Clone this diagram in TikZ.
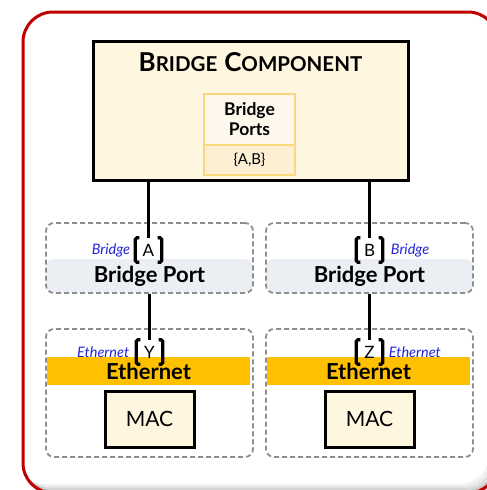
\documentclass[tikz,border=0pt]{standalone}
\usepackage{fontspec}
\setmainfont{Lato}
\usetikzlibrary{positioning}
\definecolor{framered}{HTML}{C00000}
\definecolor{cream}{HTML}{FFF6E0}
\definecolor{portsborder}{HTML}{F9D77E}
\definecolor{portstop}{HTML}{FEF8EC}
\definecolor{portsbot}{HTML}{FCEFD4}
\definecolor{bandgray}{HTML}{EBEFF4}
\definecolor{ethorange}{HTML}{FFC000}
\definecolor{dashgray}{HTML}{8E8E8E}
\definecolor{tagblue}{HTML}{2323D8}
\newcommand{\fakesc}[2]{{\fontsize{26}{28}\selectfont #1}{\fontsize{20.5}{22}\selectfont #2}}
\tikzset{
    component/.style={
    rectangle,draw=black,line width=3pt,fill=cream
    },
    ports/.style={
    rectangle,draw=portsborder,line width=1.5pt,minimum width=91pt
    },
    layer/.style={
    rectangle,rounded corners=8pt,dash pattern=on 5pt off 3pt,draw=dashgray,line width=1.8pt,minimum width=207pt
    },
    band/.style={
    rectangle,minimum width=203pt,minimum height=28pt,inner sep=0pt,font=\fontsize{22}{24}\selectfont\bfseries
    },
    port/.style={
    rectangle,minimum width=26pt,minimum height=24pt,inner sep=0pt,font=\fontsize{17}{18}\selectfont
    },
    tag/.style={
    font=\fontsize{14.5}{16}\selectfont\itshape,text=tagblue,inner sep=0pt
    },
    bracket/.style={
    line width=3.2pt,rounded corners=1.5pt
    },
    wire/.style={
    line width=3pt
    },
}
\begin{document}
\begin{tikzpicture}[x=1pt, y=-1pt]
   \useasboundingbox (0,0) rectangle (487,490);
   % frame with its inner shadow
   \begin{scope}
     \clip[rounded corners=30pt] (23,12) rectangle (498,493);
     \foreach \s/\o in {2/0.22,4/0.15,6/0.09,8/0.05}
       \draw[black, opacity=\o, line width=2.2pt, rounded corners=30pt] (23-\s,12-\s) rectangle (498-\s,493-\s);
   \end{scope}
   \draw[framered, line width=3pt, rounded corners=30pt] (23,12) rectangle (498,493);

   % bridge component
   \node[component, minimum width=315pt, minimum height=139pt] (bc) at (250.5,110.5) {};
   \node[] (bctitle) at (250.5,62) {\bfseries\fakesc{B}{RIDGE}\hspace{7pt}\fakesc{C}{OMPONENT}};
   \node[ports, fill=portstop, minimum height=51pt, align=center, font=\fontsize{17.5}{20}\selectfont\bfseries] (bpname) at (249.5,119.5) {Bridge\\Ports};
   \node[ports, fill=portsbot, minimum height=30pt, font=\fontsize{15}{16}\selectfont] (bpset) at (249.5,160) {\{A,B\}};

   % bridge ports
   \node[layer, minimum height=70pt, path picture={\fill[bandgray] (path picture bounding box.south west) rectangle ([yshift=34pt]path picture bounding box.south east);}] (bpl) at (149.5,258) {};
   \node[layer, minimum height=70pt, path picture={\fill[bandgray] (path picture bounding box.south west) rectangle ([yshift=34pt]path picture bounding box.south east);}] (bpr) at (369.5,258) {};
   \node[band] (bpltxt) at (149.5,276) {Bridge Port};
   \node[band] (bprtxt) at (369.5,276) {Bridge Port};
   \node[port] (pa) at (148.5,250) {A};
   \node[port] (pb) at (369.5,250) {B};
   \node[tag, left=5pt of pa] (tagA) {Bridge};
   \node[tag, right=8pt of pb] (tagB) {Bridge};

   % ethernet
   \node[layer, minimum height=128pt] (etl) at (149.5,393) {};
   \node[layer, minimum height=128pt] (etr) at (369.5,393) {};
   \node[band, fill=ethorange] (etltxt) at (148.5,371) {Ethernet};
   \node[band, fill=ethorange] (etrtxt) at (368.5,371) {Ethernet};
   \node[port] (py) at (149.5,352) {Y};
   \node[port] (pz) at (369.5,352) {Z};
   \node[tag, left=7pt of py] (tagY) {Ethernet};
   \node[tag, right=6pt of pz] (tagZ) {Ethernet};
   \node[component, minimum width=89pt, minimum height=56pt, font=\fontsize{21}{24}\selectfont] (macl) at (149.5,419) {MAC};
   \node[component, minimum width=89pt, minimum height=56pt, font=\fontsize{21}{24}\selectfont] (macr) at (369.5,419) {MAC};

  \path[wire]
    (bc.south -| pa) edge (pa.north)
    (bc.south -| pb) edge (pb.north)
    (bpl.south -| py) edge (py.north)
    (bpr.south -| pz) edge (pz.north);

  \foreach \p in {pa,pb,py,pz}{
    \draw[bracket] ([xshift=4pt]\p.north west) -- (\p.north west) -- (\p.south west) -- ([xshift=4pt]\p.south west);
    \draw[bracket] ([xshift=-4pt]\p.north east) -- (\p.north east) -- (\p.south east) -- ([xshift=-4pt]\p.south east);
  }
\end{tikzpicture}
\end{document}
